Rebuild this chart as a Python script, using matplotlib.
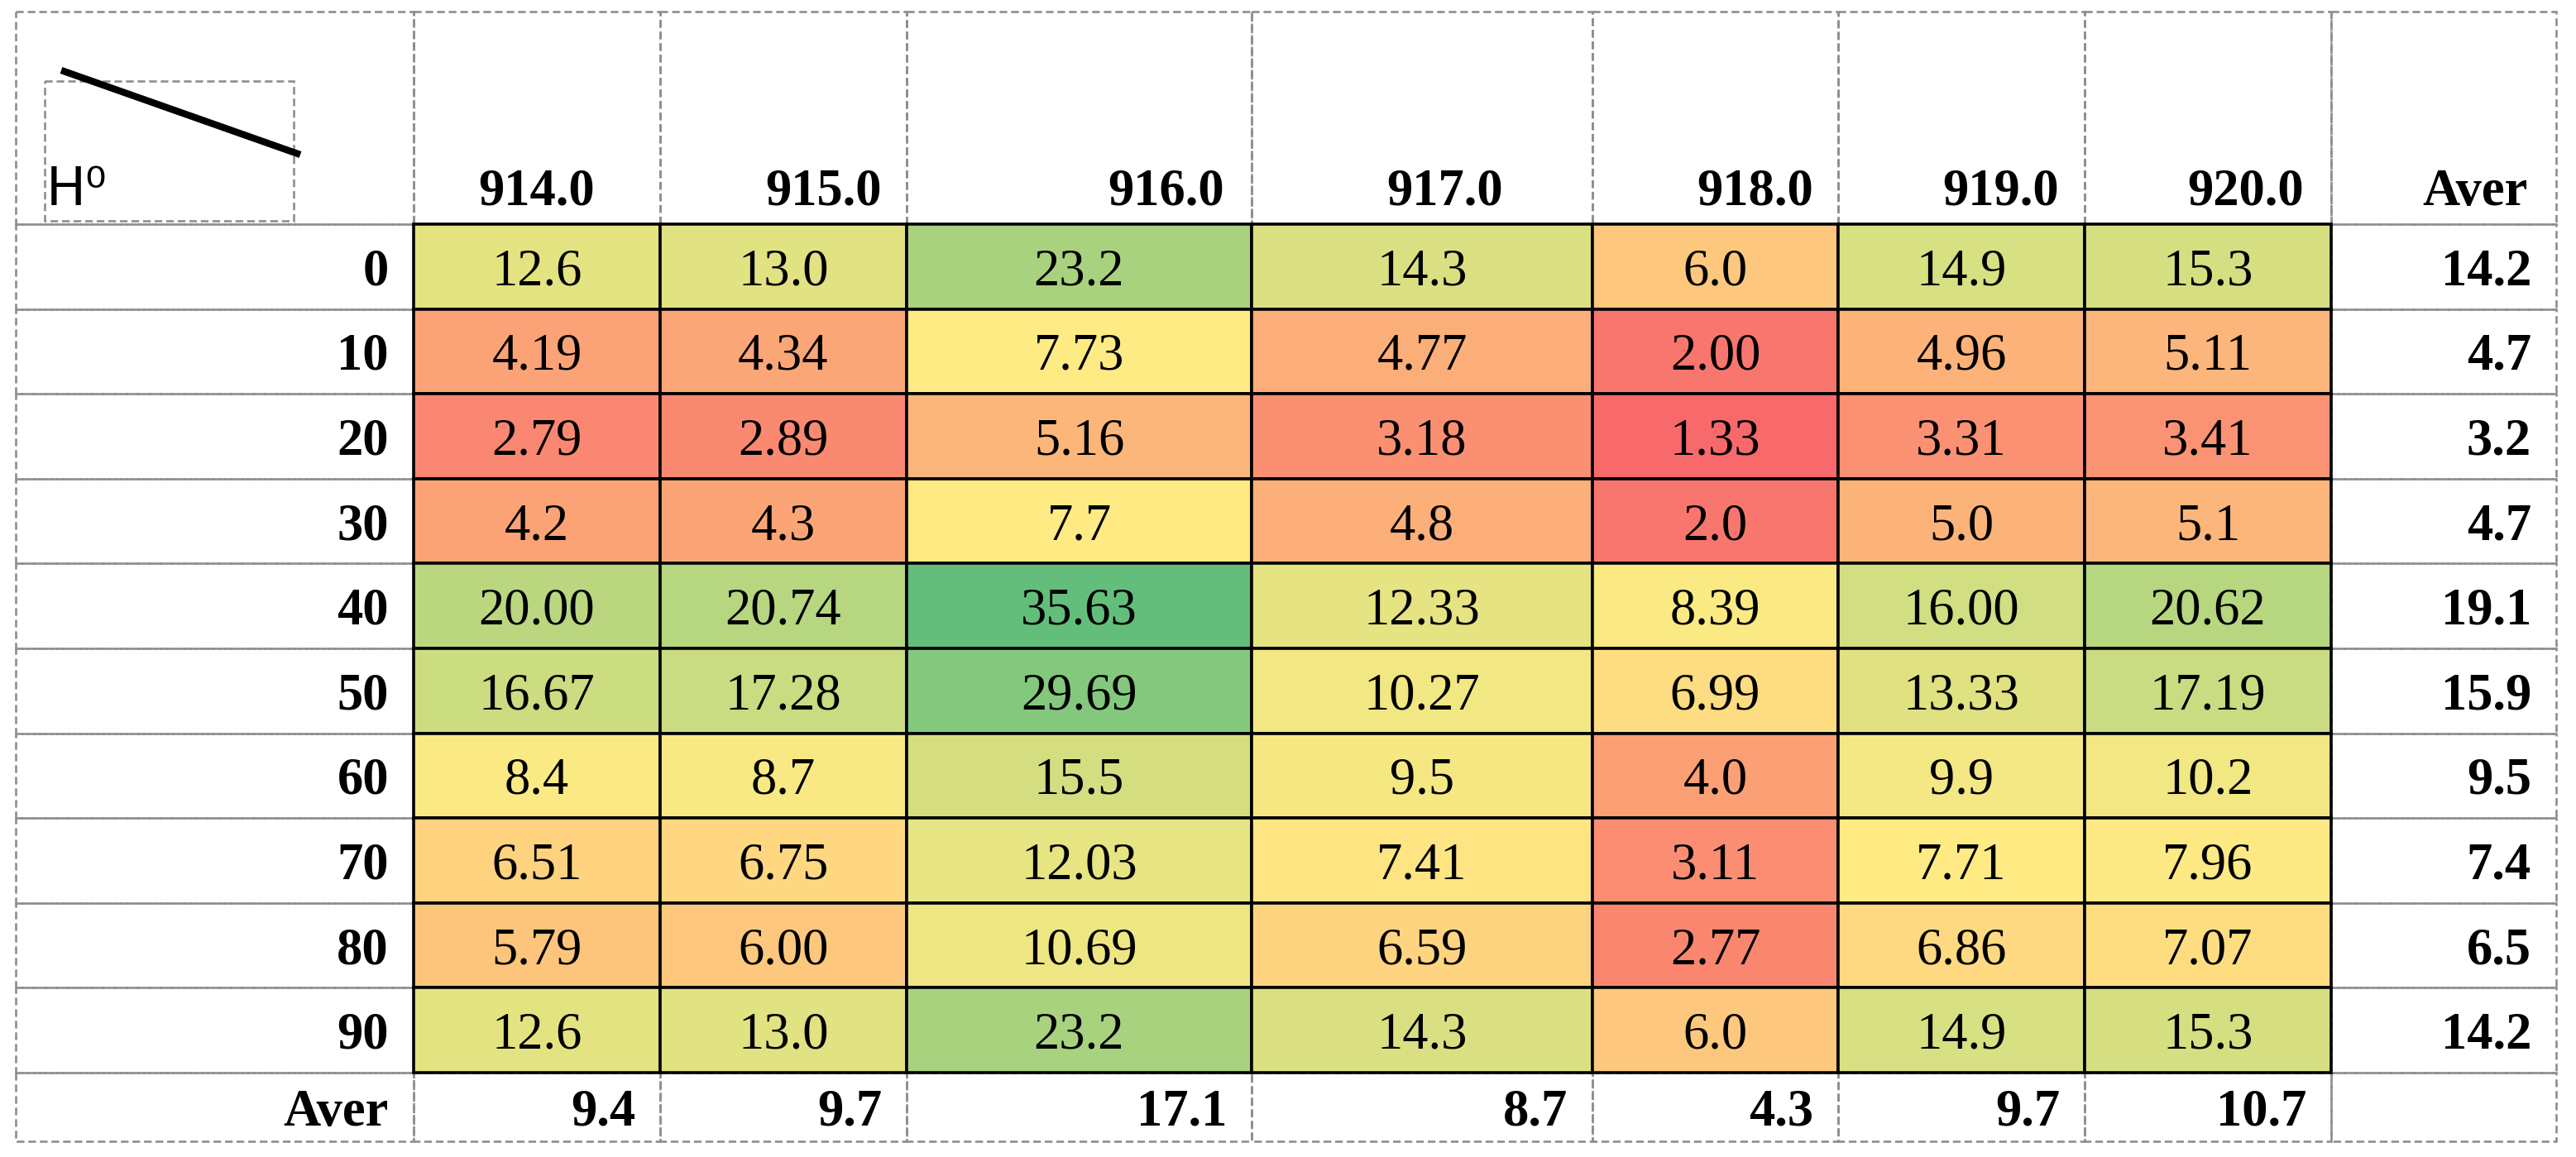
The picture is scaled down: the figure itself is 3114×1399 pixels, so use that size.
import numpy as np
import matplotlib.pyplot as plt
from matplotlib.patches import Rectangle
from matplotlib.colors import LinearSegmentedColormap, TwoSlopeNorm

col_labels = ["914.0", "915.0", "916.0", "917.0", "918.0", "919.0", "920.0"]
row_labels = ["0", "10", "20", "30", "40", "50", "60", "70", "80", "90"]
row_decimals = [1, 2, 2, 1, 2, 2, 1, 2, 2, 1]

r0 = [12.6, 13.0, 23.2, 14.3, 6.0, 14.9, 15.3]
r10 = [4.19, 4.34, 7.73, 4.77, 2.00, 4.96, 5.11]
r20 = [2.79, 2.89, 5.16, 3.18, 1.33, 3.31, 3.41]
r30 = [4.2, 4.3, 7.7, 4.8, 2.0, 5.0, 5.1]
r40 = [20.00, 20.74, 35.63, 12.33, 8.39, 16.00, 20.62]
r50 = [16.67, 17.28, 29.69, 10.27, 6.99, 13.33, 17.19]
r60 = [8.4, 8.7, 15.5, 9.5, 4.0, 9.9, 10.2]
r70 = [6.51, 6.75, 12.03, 7.41, 3.11, 7.71, 7.96]
r80 = [5.79, 6.00, 10.69, 6.59, 2.77, 6.86, 7.07]
r90 = [12.6, 13.0, 23.2, 14.3, 6.0, 14.9, 15.3]

row_aver = [14.2, 4.7, 3.2, 4.7, 19.1, 15.9, 9.5, 7.4, 6.5, 14.2]
col_aver = [9.4, 9.7, 17.1, 8.7, 4.3, 9.7, 10.7]

data = np.array([r0, r10, r20, r30, r40, r50, r60, r70, r80, r90])

# excel style 3 colour scale: min red, median yellow, max green
cmap = LinearSegmentedColormap.from_list("ryg", ["#F8696B", "#FFEB84", "#63BE7B"])
norm = TwoSlopeNorm(vmin=data.min(), vcenter=np.percentile(data, 50), vmax=data.max())

W, H = 3114, 1399
fig = plt.figure(figsize=(W / 100, H / 100), dpi=100)
ax = fig.add_axes([0, 0, 1, 1])
ax.set_xlim(0, W)
ax.set_ylim(H, 0)
ax.axis("off")

# table geometry in pixels
xe = [19, 500, 798, 1096, 1513, 1925, 2222, 2520, 2818, 3090]
top, head_bot, row_h, aver_h = 14, 271, 102.6, 83
ye = [top, head_bot] + [head_bot + row_h * (i + 1) for i in range(10)] + [head_bot + row_h * 10 + aver_h]
head_pad = [79, 30, 33, 108, 30, 31, 33, 34]
pad = 30

font = "Liberation Serif"
fs = 45
grey = "#8e8e8e"

def dashed_cell(x0, x1, y0, y1):
    ax.add_patch(Rectangle((x0, y0), x1 - x0, y1 - y0, fill=False, edgecolor=grey,
                           lw=1.9, ls=(0, (3.5, 1.8)), zorder=1))

# header row
for j in range(9):
    dashed_cell(xe[j], xe[j + 1], ye[0], ye[1])
for j, lab in enumerate(col_labels + ["Aver"]):
    ax.text(xe[j + 2] - head_pad[j], 248, lab, ha="right", va="baseline",
            fontsize=fs, fontweight="bold", family=font, zorder=5)

# corner box
ax.add_patch(Rectangle((54, 98), 301, 169, fill=False, edgecolor=grey, lw=1.9,
                       ls=(0, (3.5, 1.8)), zorder=1))
ax.plot([74, 363], [85, 187], color="black", lw=6, solid_capstyle="butt", zorder=4)
ax.text(56, 248, "H\u2070", ha="left", va="baseline", fontsize=46,
        family=["Liberation Sans Narrow", "DejaVu Sans"], zorder=5)

# data rows
for i, lab in enumerate(row_labels):
    y0, y1 = ye[i + 1], ye[i + 2]
    yc = (y0 + y1) / 2
    dashed_cell(xe[0], xe[1], y0, y1)
    dashed_cell(xe[8], xe[9], y0, y1)
    ax.text(xe[1] - pad, yc, lab, ha="right", va="center_baseline", fontsize=fs,
            fontweight="bold", family=font, zorder=5)
    for j in range(7):
        v = data[i, j]
        ax.add_patch(Rectangle((xe[j + 1], y0), xe[j + 2] - xe[j + 1], y1 - y0,
                               facecolor=cmap(norm(v)), edgecolor="black", lw=2.6, zorder=2))
        ax.text((xe[j + 1] + xe[j + 2]) / 2, yc, f"{v:.{row_decimals[i]}f}", ha="center",
                va="center_baseline", fontsize=fs, family=font, zorder=5)
    ax.text(xe[9] - pad, yc, f"{row_aver[i]:.1f}", ha="right", va="center_baseline",
            fontsize=fs, fontweight="bold", family=font, zorder=5)

# average row
y0, y1 = ye[11], ye[12]
for j in range(9):
    dashed_cell(xe[j], xe[j + 1], y0, y1)
ax.text(xe[1] - pad, (y0 + y1) / 2, "Aver", ha="right", va="center_baseline", fontsize=fs,
        fontweight="bold", family=font, zorder=5)
for j, v in enumerate(col_aver):
    ax.text(xe[j + 2] - pad, (y0 + y1) / 2, f"{v:.1f}", ha="right", va="center_baseline",
            fontsize=fs, fontweight="bold", family=font, zorder=5)

fig.savefig("out.png", dpi=100, facecolor="white")
